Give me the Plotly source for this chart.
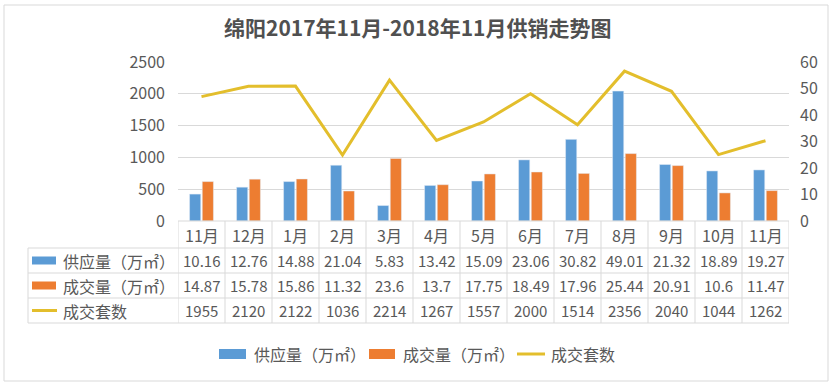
import plotly.graph_objects as go

months = ["11月", "12月", "1月", "2月", "3月", "4月", "5月", "6月", "7月", "8月", "9月", "10月", "11月"]
supply = [10.16, 12.76, 14.88, 21.04, 5.83, 13.42, 15.09, 23.06, 30.82, 49.01, 21.32, 18.89, 19.27]
deal = [14.87, 15.78, 15.86, 11.32, 23.6, 13.7, 17.75, 18.49, 17.96, 25.44, 20.91, 10.6, 11.47]
units = [1955, 2120, 2122, 1036, 2214, 1267, 1557, 2000, 1514, 2356, 2040, 1044, 1262]
series_names = ["供应量（万㎡）", "成交量（万㎡）", "成交套数"]
title = "绵阳2017年11月-2018年11月供销走势图"

BLUE = "#5B9BD5"
ORANGE = "#ED7D31"
YELLOW = "#E3BE2C"
TXT = "#595959"
GRID = "#D9D9D9"
FONT = "Noto Sans CJK SC"

W, H = 834, 385
PL, PR, PT, PB = 178, 789, 62, 221  # plot area in pixels


def px(x):
    return (x - PL) / (PR - PL)


def py(y):
    return (PB - y) / (PB - PT)


idx = list(range(len(months)))

fig = go.Figure()
fig.add_trace(go.Bar(x=idx, y=supply, name=series_names[0], marker_color=BLUE, yaxis="y2"))
fig.add_trace(go.Bar(x=idx, y=deal, name=series_names[1], marker_color=ORANGE, yaxis="y2"))
fig.add_trace(go.Scatter(x=idx, y=units, name=series_names[2], mode="lines",
                         line=dict(color=YELLOW, width=3), yaxis="y"))

shapes = []
annotations = []


def label(x, y, text, xref="paper", xanchor="center", size=15, color=TXT):
    annotations.append(dict(x=x, y=y, xref=xref, yref="paper", text=text, showarrow=False,
                            xanchor=xanchor, yanchor="middle",
                            font=dict(size=size, color=color, family=FONT)))


# table grid
row_lines = [248, 273, 298, 323]
for yy in row_lines:
    shapes.append(dict(type="line", xref="paper", yref="paper", x0=px(28), x1=1, y0=py(yy), y1=py(yy),
                       line=dict(color=GRID, width=1)))
shapes.append(dict(type="line", xref="paper", yref="paper", x0=0, x1=1, y0=py(PB), y1=py(PB),
                   line=dict(color=GRID, width=1)))
for i in range(len(months) + 1):
    shapes.append(dict(type="line", xref="x", yref="paper", x0=i - 0.5, x1=i - 0.5, y0=py(PB), y1=py(323),
                       line=dict(color=GRID, width=1)))
shapes.append(dict(type="line", xref="paper", yref="paper", x0=px(28), x1=px(28), y0=py(248), y1=py(323),
                   line=dict(color=GRID, width=1)))

# table contents
row_centers = [260.5, 285.5, 310.5]
for i, m in enumerate(months):
    label(i, py(235), m, xref="x", size=16)
for r, vals in enumerate([supply, deal, units]):
    for i, v in enumerate(vals):
        label(i, py(row_centers[r]), str(v), xref="x")
    label(px(61), py(row_centers[r]), series_names[r], xanchor="left", size=16)

# table keys
for r, c in enumerate([BLUE, ORANGE]):
    yc = row_centers[r]
    shapes.append(dict(type="rect", xref="paper", yref="paper", x0=px(32), x1=px(56), y0=py(yc - 4),
                       y1=py(yc + 4), fillcolor=c, line=dict(width=0)))
shapes.append(dict(type="line", xref="paper", yref="paper", x0=px(32), x1=px(57), y0=py(row_centers[2]),
                   y1=py(row_centers[2]), line=dict(color=YELLOW, width=3)))

# bottom legend
LY = 354
leg = [(219, 246, 252, BLUE, "rect"), (369, 395, 401, ORANGE, "rect"), (517, 545, 549, YELLOW, "line")]
for k, (a, b, t, c, kind) in enumerate(leg):
    if kind == "rect":
        shapes.append(dict(type="rect", xref="paper", yref="paper", x0=px(a), x1=px(b), y0=py(LY - 5),
                           y1=py(LY + 5), fillcolor=c, line=dict(width=0)))
    else:
        shapes.append(dict(type="line", xref="paper", yref="paper", x0=px(a), x1=px(b), y0=py(LY),
                           y1=py(LY), line=dict(color=c, width=3)))
    label(px(t), py(LY), series_names[k], xanchor="left", size=16)

# chart border
shapes.append(dict(type="rect", xref="paper", yref="paper", x0=px(4), x1=px(828), y0=py(5), y1=py(381),
                   line=dict(color=GRID, width=1), layer="below"))

# title
label(px(417), py(27), "<b>" + title + "</b>", size=21, color="#505050")

fig.update_layout(
    width=W, height=H,
    margin=dict(l=PL, r=W - PR, t=PT, b=H - PB, pad=0),
    paper_bgcolor="white", plot_bgcolor="white",
    showlegend=False,
    barmode="group", bargap=0.46, bargroupgap=0.12,
    font=dict(family=FONT, color=TXT),
    xaxis=dict(range=[-0.5, len(months) - 0.5], showticklabels=False, showgrid=False, zeroline=False,
               showline=False, fixedrange=True),
    yaxis=dict(range=[0, 2500], dtick=500, showgrid=True, gridcolor=GRID, zeroline=False,
               tickfont=dict(size=16, color=TXT), ticks="", ticklabelstandoff=12, automargin=False),
    yaxis2=dict(range=[0, 60], dtick=10, overlaying="y", side="right", showgrid=False, zeroline=False,
                tickfont=dict(size=16, color=TXT), ticks="", ticklabelstandoff=10, automargin=False),
    shapes=shapes,
    annotations=annotations,
)

fig.write_html("out.html", config={"displayModeBar": False},
               post_script="document.body.style.margin='0';document.body.style.padding='0';")
